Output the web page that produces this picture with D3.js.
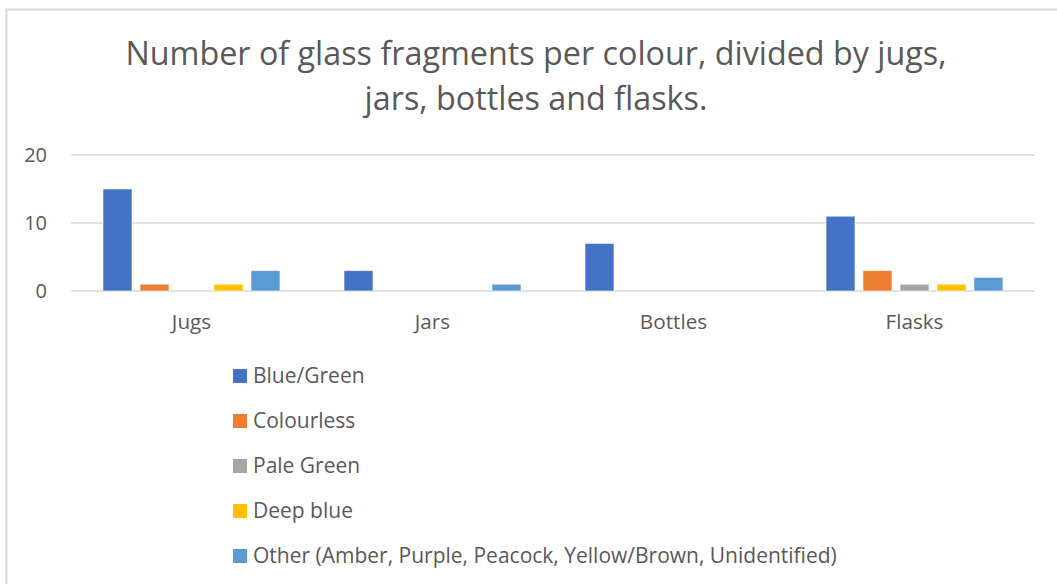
<!DOCTYPE html>
<html>
<head>
<meta charset="utf-8">
<script src="https://cdn.jsdelivr.net/npm/d3@7"></script>
<style>
  html, body { margin: 0; padding: 0; background: #fff; }
  svg { display: block; }
  text { font-family: "Open Sans", "Noto Sans", sans-serif; fill: #595959; }
</style>
</head>
<body>
<svg id="chart" width="1057" height="584"></svg>
<script>
const categories = ["Jugs", "Jars", "Bottles", "Flasks"];
const seriesNames = ["Blue/Green", "Colourless", "Pale Green", "Deep blue", "Other (Amber, Purple, Peacock, Yellow/Brown, Unidentified)"];
const seriesColors = ["#4472C4", "#ED7D31", "#A5A5A5", "#FFC000", "#5B9BD5"];
const blueGreen = [15, 3, 7, 11];
const colourless = [1, 0, 0, 3];
const paleGreen = [0, 0, 0, 1];
const deepBlue = [1, 0, 0, 1];
const other = [3, 1, 0, 2];
const yTicks = [0, 10, 20];
const titleLines = ["Number of glass fragments per colour, divided by jugs,", "jars, bottles and flasks."];

const seriesValues = [blueGreen, colourless, paleGreen, deepBlue, other];

const svg = d3.select("#chart");

// outer chart border (left and top visible)
svg.append("path")
  .attr("d", "M6.5,584 L6.5,9.5 L1057,9.5")
  .attr("fill", "none").attr("stroke", "#D9D9D9").attr("stroke-width", 2);

// title
const title = svg.append("g");
titleLines.forEach((t, i) => {
  title.append("text")
    .attr("x", 536).attr("y", 65 + i * 45)
    .attr("text-anchor", "middle")
    .style("font-size", "32.3px")
    .text(t);
});

const x0 = d3.scaleBand().domain(categories).range([71, 1035]).padding(0);
const x1 = d3.scaleBand().domain(d3.range(seriesNames.length))
  .range([0, x0.bandwidth()]).paddingInner(8 / 37).paddingOuter(0.865);
const y = d3.scaleLinear().domain([0, 20]).range([291, 155]);

// gridlines
svg.append("g").selectAll("line").data(yTicks).join("line")
  .attr("x1", 71).attr("x2", 1035)
  .attr("y1", d => y(d)).attr("y2", d => y(d))
  .attr("stroke", "#D9D9D9").attr("stroke-width", 1.5);

// y labels
svg.append("g").selectAll("text").data(yTicks).join("text")
  .attr("x", 47).attr("y", d => y(d)).attr("dy", "0.35em")
  .attr("text-anchor", "end").style("font-size", "20px")
  .text(d => d);

// bars
const groups = svg.append("g").selectAll("g").data(categories).join("g")
  .attr("transform", c => `translate(${x0(c)},0)`);
groups.selectAll("rect")
  .data((c, ci) => seriesValues.map((vals, si) => ({ si, v: vals[ci] })).filter(d => d.v > 0))
  .join("rect")
  .attr("x", d => x1(d.si))
  .attr("width", x1.bandwidth())
  .attr("y", d => y(d.v))
  .attr("height", d => y(0) - y(d.v))
  .attr("fill", d => seriesColors[d.si])
  .attr("stroke", "#fff").attr("stroke-opacity", 0.6).attr("stroke-width", 1);

// category labels
svg.append("g").selectAll("text").data(categories).join("text")
  .attr("x", c => x0(c) + x0.bandwidth() / 2).attr("y", 322).attr("dy", "0.35em")
  .attr("text-anchor", "middle").style("font-size", "20.7px")
  .text(c => c);

// legend
const leg = svg.append("g").selectAll("g").data(seriesNames).join("g")
  .attr("transform", (d, i) => `translate(233,${376 + i * 45})`);
leg.append("rect").attr("x", 0).attr("y", -7).attr("width", 14).attr("height", 14)
  .attr("fill", (d, i) => seriesColors[i]);
leg.append("text").attr("x", 20).attr("y", 0).attr("dy", "0.35em")
  .style("font-size", "21px").text(d => d);
</script>
</body>
</html>
